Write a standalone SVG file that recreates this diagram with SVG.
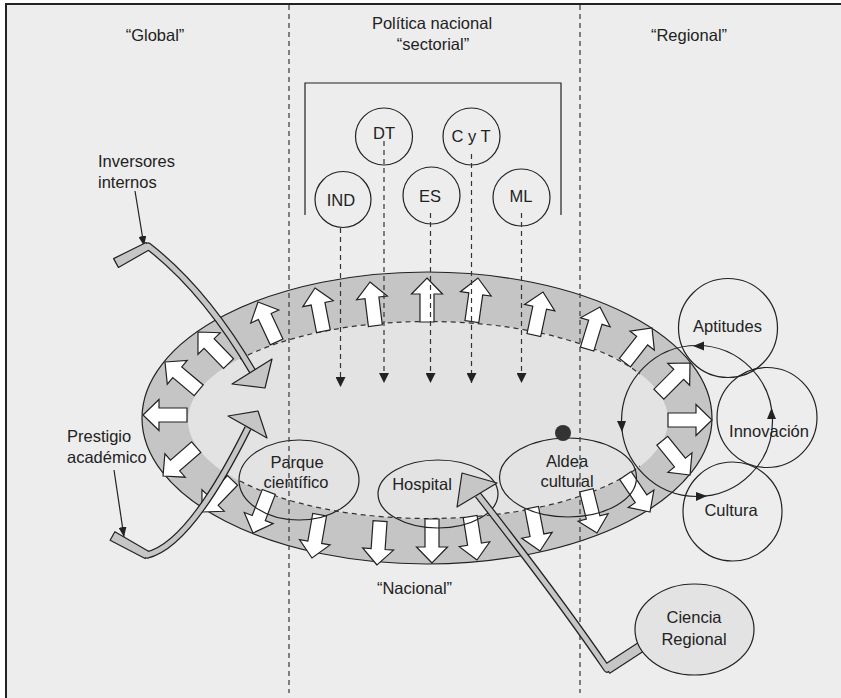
<svg xmlns="http://www.w3.org/2000/svg" width="841" height="698" viewBox="0 0 841 698">
<style>
.t{font-family:"Liberation Sans",Arial,Helvetica,sans-serif;font-size:16.5px;fill:#222;text-anchor:middle}
.ts{text-anchor:start}
.ln{fill:none;stroke:#222;stroke-width:1.2}
.vd{fill:none;stroke:#444;stroke-width:1.3;stroke-dasharray:5,4}
.dd{fill:none;stroke:#333;stroke-width:1.2;stroke-dasharray:5,4}
.pg{fill:#c6c6c6;stroke:#222;stroke-width:1.2;stroke-linejoin:round}
.pb{fill:none;stroke:#222;stroke-width:7.5;stroke-linejoin:round}
.pf{fill:none;stroke:#c6c6c6;stroke-width:5;stroke-linejoin:round}
.ah{fill:#222}
</style>
<defs>
<polygon id="wa" points="0,0 15.5,16 7,16 7,44 -7,44 -7,16 -15.5,16" fill="#fff" stroke="#222" stroke-width="1.2"/>
<marker id="m" viewBox="0 0 10 10" refX="10" refY="5" markerWidth="10" markerHeight="10" markerUnits="userSpaceOnUse" orient="auto"><path d="M0,0 L10,5 L0,10 z" fill="#222"/></marker>
<marker id="ms" viewBox="0 0 10 8" refX="10" refY="4" markerWidth="10" markerHeight="8" markerUnits="userSpaceOnUse" orient="auto"><path d="M0,0 L10,4 L0,8 z" fill="#222"/></marker>
</defs>
<rect width="841" height="698" fill="#fff"/>
<rect x="6" y="4" width="840" height="700" fill="#ededed" stroke="#222" stroke-width="2"/>

<g id="band">
<ellipse cx="427" cy="418" rx="285" ry="146" fill="#c5c5c5" stroke="#222" stroke-width="1.2"/>
<ellipse cx="428" cy="420" rx="240" ry="99" fill="#e3e3e3"/>
<path class="dd" d="M240,359 A240,99 0 0 1 640,374"/>
<path class="dd" d="M240,481 A240,99 0 0 0 640,466"/>
</g>

<g id="flow-arrows">
<use href="#wa" transform="translate(143,415) rotate(-90)"/>
<use href="#wa" transform="translate(165,362) rotate(-50)"/>
<use href="#wa" transform="translate(198,332) rotate(-44)"/>
<use href="#wa" transform="translate(258,302) rotate(-25)"/>
<use href="#wa" transform="translate(315,288) rotate(-11)"/>
<use href="#wa" transform="translate(370,282) rotate(-7)"/>
<use href="#wa" transform="translate(427,278) rotate(0)"/>
<use href="#wa" transform="translate(478,278) rotate(8)"/>
<use href="#wa" transform="translate(543,292) rotate(12)"/>
<use href="#wa" transform="translate(600,307) rotate(17)"/>
<use href="#wa" transform="translate(652,328) rotate(38)"/>
<use href="#wa" transform="translate(690,363) rotate(45)"/>
<use href="#wa" transform="translate(712,420) rotate(90)"/>
<use href="#wa" transform="translate(690,475) rotate(141)"/>
<use href="#wa" transform="translate(163,476) rotate(-131)"/>
<use href="#wa" transform="translate(202,512) rotate(-136)"/>
<use href="#wa" transform="translate(253,533) rotate(-159)"/>
<use href="#wa" transform="translate(312,558) rotate(-170)"/>
<use href="#wa" transform="translate(377,565) rotate(-176)"/>
<use href="#wa" transform="translate(432,563) rotate(180)"/>
<use href="#wa" transform="translate(477,560) rotate(171)"/>
<use href="#wa" transform="translate(540,551) rotate(169)"/>
<use href="#wa" transform="translate(597,533) rotate(166)"/>
<use href="#wa" transform="translate(650,512) rotate(146)"/>
</g>

<g id="parque"><ellipse class="ln" cx="299" cy="480" rx="60" ry="40"/><text class="t" x="297" y="468">Parque</text><text class="t" x="296" y="488">científico</text></g>
<g id="hospital"><ellipse class="ln" cx="438" cy="494" rx="60" ry="34"/><text class="t" x="422" y="490">Hospital</text></g>
<g id="aldea"><ellipse class="ln" cx="568" cy="477.5" rx="68.5" ry="39.5"/><text class="t" x="567" y="467">Aldea</text><text class="t" x="567" y="487">cultural</text></g>
<circle id="dot" cx="563" cy="433" r="8" fill="#333"/>

<g id="cycle">
<circle class="ln" cx="697" cy="421" r="75.5"/>
<polygon class="ah" points="693,346 704,341.5 704,350.5"/>
<polygon class="ah" points="617,421 626,421 622,432"/>
<polygon class="ah" points="696,492 696,501 707,496"/>
<polygon class="ah" points="771.5,408 767,419 776,419"/>
</g>
<g id="aptitudes"><circle class="ln" cx="728" cy="328" r="49.5"/><text class="t" x="727.5" y="332">Aptitudes</text></g>
<g id="innovacion"><circle class="ln" cx="767" cy="417.5" r="50"/><text class="t" x="769" y="437">Innovación</text></g>
<g id="cultura"><circle class="ln" cx="732.5" cy="511.5" r="49.5"/><text class="t" x="731" y="516">Cultura</text></g>

<g id="zones">
<line class="vd" x1="289" y1="5" x2="289" y2="693"/>
<line class="vd" x1="580" y1="5" x2="580" y2="693"/>
<text class="t" x="155" y="41">“Global”</text>
<text class="t" x="432" y="29">Política nacional</text>
<text class="t" x="433" y="50">“sectorial”</text>
<text class="t" x="689" y="41">“Regional”</text>
<text class="t" x="414.5" y="594">“Nacional”</text>
</g>

<path id="bracket" class="ln" d="M305,215 V83 H561 V215"/>

<g id="ind"><circle class="ln" cx="343" cy="199.5" r="28"/><text class="t" x="341" y="206">IND</text></g>
<g id="dt"><circle class="ln" cx="384" cy="136.5" r="28.5"/><text class="t" x="384" y="139">DT</text></g>
<g id="es"><circle class="ln" cx="431.5" cy="195.5" r="28.5"/><text class="t" x="430" y="202">ES</text></g>
<g id="cyt"><circle class="ln" cx="471.5" cy="136.5" r="28.5"/><text class="t" x="471" y="142">C y T</text></g>
<g id="ml"><circle class="ln" cx="521.5" cy="197.5" r="28.5"/><text class="t" x="521" y="202">ML</text></g>

<g id="connectors">
<line class="dd" x1="340.5" y1="228" x2="340.5" y2="387" marker-end="url(#m)"/>
<line class="dd" x1="384" y1="141" x2="384" y2="383" marker-end="url(#m)"/>
<line class="dd" x1="430.5" y1="213" x2="430.5" y2="383" marker-end="url(#m)"/>
<line class="dd" x1="471.5" y1="154" x2="471.5" y2="383" marker-end="url(#m)"/>
<line class="dd" x1="521.5" y1="213" x2="521.5" y2="383" marker-end="url(#m)"/>
<line class="ln" x1="135" y1="191" x2="144" y2="246" marker-end="url(#ms)"/>
<line class="ln" x1="114" y1="470" x2="124" y2="537" marker-end="url(#ms)"/>
</g>

<g id="pipe-inversores">
<path class="pb" d="M116,263 L148,246 Q205,290 253,372"/>
<polygon class="pg" points="113.6,258.6 146.1,242.5 149.9,249.5 118.4,267.4"/>
<path class="pf" d="M144.5,248 L148,246 Q205,290 253,372"/>
<polygon class="pg" points="232,384 272,359 265,388"/>
</g>
<g id="pipe-prestigio">
<path class="pb" d="M112.5,536 L147,555 Q190,545 248,428"/>
<polygon class="pg" points="114.9,531.7 148.9,551.5 145.1,558.5 110.1,540.3"/>
<path class="pf" d="M143.5,553 L147,555 Q190,545 248,428"/>
<polygon class="pg" points="228,416 258,411 267,438"/>
</g>
<g id="pipe-ciencia">
<path class="pb" d="M650,641 L607,669 Q560,600 478,495"/>
<polygon class="pg" points="604.3,664.8 647.3,636.8 652.7,645.2 609.7,673.2"/>
<path class="pf" d="M611,666.5 L607,669 Q560,600 478,495"/>
<polygon class="pg" points="497,483 457,507 462,473"/>
</g>

<g id="ciencia"><ellipse cx="694.5" cy="629.5" rx="59.5" ry="45.5" fill="#e3e3e3" stroke="#222" stroke-width="1.2"/><text class="t" x="694" y="623">Ciencia</text><text class="t" x="694" y="645">Regional</text></g>

<g id="labels">
<text class="t ts" x="98" y="167">Inversores</text>
<text class="t ts" x="98" y="188">internos</text>
<text class="t ts" x="67" y="442">Prestigio</text>
<text class="t ts" x="67" y="463">académico</text>
</g>
</svg>
